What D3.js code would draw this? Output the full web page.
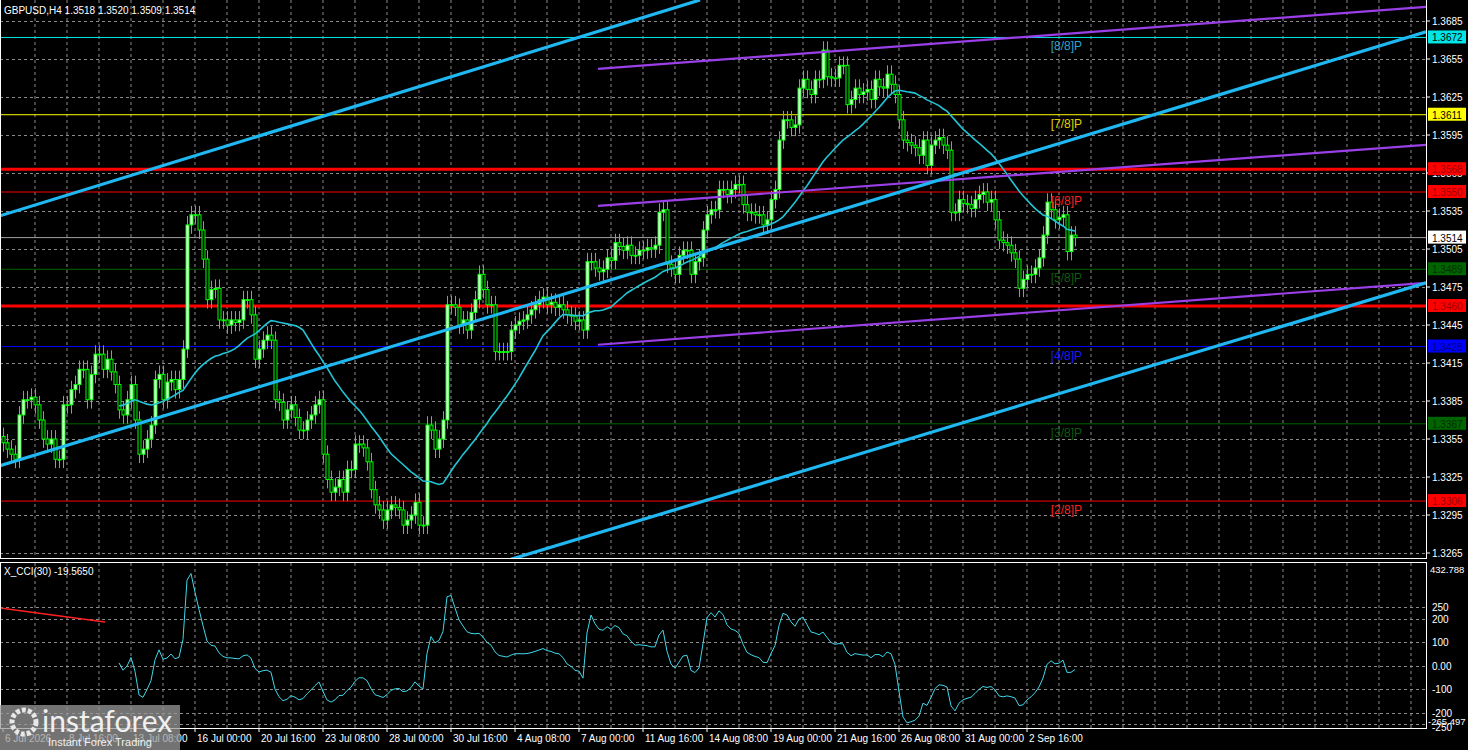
<!DOCTYPE html>
<html><head><meta charset="utf-8">
<script src="https://cdn.jsdelivr.net/npm/d3@7"></script>
<style>
body{margin:0;background:#000;overflow:hidden}
svg{display:block;font-family:"Liberation Sans",Arial,sans-serif}
</style></head><body>
<svg id="c" width="1468" height="750"></svg>
<script>
// closes of the H4 bars
const closes = [
1.3352,1.3347,1.3343,1.3339,1.3374,1.3386,1.3386,1.3388,1.3382,1.3370,1.3355,1.3351,1.3355,1.3339,1.3339,1.3382,1.3382,1.3394,1.3398,1.3410,1.3410,1.3386,1.3406,1.3422,1.3422,1.3410,1.3418,1.3408,1.3398,1.3378,1.3374,1.3386,1.3398,1.3370,1.3343,1.3347,1.3355,1.3366,1.3402,1.3406,1.3386,1.3400,1.3402,1.3394,1.3402,1.3426,1.3524,1.3532,1.3532,1.3520,1.3497,1.3465,1.3473,1.3474,1.3449,1.3449,1.3445,1.3449,1.3447,1.3449,1.3465,1.3465,1.3453,1.3418,1.3426,1.3433,1.3437,1.3433,
1.3386,1.3384,1.3370,1.3378,1.3382,1.3372,1.3362,1.3362,1.3370,1.3374,1.3382,1.3386,1.3343,1.3323,1.3313,1.3317,1.3323,1.3313,1.3331,1.3331,1.3351,1.3351,1.3348,1.3337,1.3315,1.3303,1.3299,1.3291,1.3299,1.3303,1.3301,1.3299,1.3287,1.3291,1.3295,1.3305,1.3287,1.3287,1.3366,1.3362,1.3347,1.3355,1.3370,1.3461,1.3461,1.3459,1.3445,1.3449,1.3441,1.3455,1.3465,1.3485,1.3473,1.3461,1.3461,1.3424,1.3424,1.3424,1.3424,1.3441,1.3445,1.3448,1.3449,1.3453,1.3457,1.3461,1.3465,1.3467,
1.3461,1.3463,1.3459,1.3461,1.3457,1.3453,1.3452,1.3448,1.3449,1.3441,1.3495,1.3495,1.3490,1.3487,1.3489,1.3498,1.3496,1.3510,1.3507,1.3504,1.3508,1.3500,1.3500,1.3504,1.3504,1.3506,1.3505,1.3508,1.3534,1.3536,1.3493,1.3490,1.3485,1.3500,1.3504,1.3504,1.3485,1.3495,1.3498,1.3520,1.3532,1.3536,1.3536,1.3552,1.3552,1.3548,1.3552,1.3556,1.3556,1.3540,1.3534,1.3534,1.3532,1.3532,1.3524,1.3528,1.3544,1.3552,1.3591,1.3607,1.3607,1.3601,1.3603,
1.3632,1.3639,1.3631,1.3627,1.3639,1.3639,1.3662,1.3641,1.3640,1.3640,1.3650,1.3650,1.3619,1.3623,1.3632,1.3627,1.3629,1.3631,1.3623,1.3639,1.3633,1.3632,1.3643,1.3635,1.3627,1.3607,1.3591,1.3589,1.3587,1.3585,1.3579,1.3591,1.3571,1.3587,1.3591,1.3593,1.3587,1.3583,1.3534,1.3534,1.3544,1.3541,1.3540,1.3537,1.3544,1.3548,1.3550,1.3542,1.3544,1.3528,1.3512,1.3510,1.3508,1.3502,1.3497,1.3474,1.3481,1.3485,1.3485,1.3490,1.3498,1.3516,1.3542,1.3536,1.3528,1.3530,1.3532,1.3503,1.3516,1.3514
];
const wick = 0.0007;
const xLabels = ["6 Jul 2026","8 Jul 16:00","13 Jul 08:00","16 Jul 00:00","20 Jul 16:00","23 Jul 08:00","28 Jul 00:00","30 Jul 16:00","4 Aug 08:00","7 Aug 00:00","11 Aug 16:00","14 Aug 08:00","19 Aug 00:00","21 Aug 16:00","26 Aug 08:00","31 Aug 00:00","2 Sep 16:00"];
const priceTicks = [1.3685,1.3655,1.3625,1.3595,1.3565,1.3535,1.3505,1.3475,1.3445,1.3415,1.3385,1.3355,1.3325,1.3295,1.3265];
// horizontal levels: price, colour, width, label text colour
const levels = [
  {p:1.3672,c:"#00e5e5",w:1,t:"#000"},
  {p:1.3611,c:"#ffff00",w:1,t:"#000"},
  {p:1.3568,c:"#ff0000",w:3,t:"#a00000"},
  {p:1.3550,c:"#ff0000",w:1,t:"#a00000"},
  {p:1.3514,c:"#a0a0a0",w:1,t:"#000",bg:"#ffffff"},
  {p:1.3489,c:"#006400",w:1,t:"#003000"},
  {p:1.3460,c:"#ff0000",w:3,t:"#a00000"},
  {p:1.3428,c:"#0000ff",w:1,t:"#000080"},
  {p:1.3367,c:"#006400",w:1,t:"#003000"},
  {p:1.3306,c:"#ff0000",w:1,t:"#a00000"}
];
const murrey = [
  {p:1.3672,s:"[8/8]P",c:"#2aa6c8"},{p:1.3611,s:"[7/8]P",c:"#e0d000"},{p:1.3550,s:"[6/8]P",c:"#ff2020"},
  {p:1.3489,s:"[5/8]P",c:"#0c5c0c"},{p:1.3428,s:"[4/8]P",c:"#1a1aff"},{p:1.3367,s:"[3/8]P",c:"#0c5c0c"},{p:1.3306,s:"[2/8]P",c:"#ff2020"}
];
// channel lines [i1,p1,i2,p2]
const blueLines = [[-0.75,1.35312,174.25,1.37016],[-0.75,1.33339,355.75,1.36764],[126.75,1.32598,355.75,1.34783]];
const purpleLines = [[148.75,1.36472,355.75,1.36961],[148.75,1.35391,355.75,1.35872],[148.75,1.34294,355.75,1.34783]];
const cciTicks = [250,200,100,0,-100,-200,-250];

const svg = d3.select("#c");
const W = 1426, mainBot = 558, cTop = 563, cBot = 728;
const x = d3.scaleLinear().domain([0,1]).range([3,7]);
const y = d3.scaleLinear().domain([1.3685,1.3265]).range([21,553]);
const yc = d3.scaleLinear().domain([432.788,-265.497]).range([564,728]);

const bars = closes.map((c,i) => {
  const o = i ? closes[i-1] : c + 0.0005;
  return {i, o, c, h: Math.max(o,c)+wick, l: Math.min(o,c)-wick};
});

svg.append("clipPath").attr("id","cm").append("rect").attr("width",W).attr("height",mainBot);
svg.append("clipPath").attr("id","cc").append("rect").attr("y",cTop).attr("width",W).attr("height",cBot-cTop);

// grid
const grid = svg.append("g").attr("stroke","#8a8a8a").attr("stroke-dasharray","3,3").attr("stroke-width",1);
d3.range(8,357,8).forEach(i => {
  grid.append("line").attr("x1",x(i)).attr("x2",x(i)).attr("y1",0).attr("y2",mainBot);
  grid.append("line").attr("x1",x(i)).attr("x2",x(i)).attr("y1",cTop).attr("y2",cBot);
});
priceTicks.forEach(p => grid.append("line").attr("x1",0).attr("x2",W).attr("y1",Math.round(y(p))+.5).attr("y2",Math.round(y(p))+.5));
cciTicks.forEach(v => grid.append("line").attr("x1",0).attr("x2",W).attr("y1",Math.round(yc(v))+.5).attr("y2",Math.round(yc(v))+.5));

const m = svg.append("g").attr("clip-path","url(#cm)");
levels.forEach(l => m.append("line").attr("x1",0).attr("x2",W).attr("y1",y(l.p)).attr("y2",y(l.p)).attr("stroke",l.c).attr("stroke-width",l.w));

// candles
const cg = m.append("g");
bars.forEach(b => {
  cg.append("line").attr("x1",x(b.i)+.5).attr("x2",x(b.i)+.5).attr("y1",y(b.h)).attr("y2",y(b.l)).attr("stroke","#00ff00");
  const top = y(Math.max(b.o,b.c)), bot = y(Math.min(b.o,b.c));
  cg.append("rect").attr("x",x(b.i)-1).attr("y",top).attr("width",3).attr("height",Math.max(bot-top,0.8))
    .attr("fill", b.c >= b.o ? "#ffffff" : "#000").attr("stroke","#00ff00").attr("stroke-width",1);
});

// moving average
const per = 30;
const ma = bars.slice(per-1).map(b => ({i:b.i, v:d3.mean(closes.slice(b.i-per+1,b.i+1))}));
m.append("path").datum(ma).attr("fill","none").attr("stroke","#22c4d6").attr("stroke-width",1.6)
  .attr("d", d3.line().x(d=>x(d.i)).y(d=>y(d.v)));

purpleLines.forEach(l => m.append("line").attr("x1",x(l[0])).attr("y1",y(l[1])).attr("x2",x(l[2])).attr("y2",y(l[3])).attr("stroke","#9b3fe8").attr("stroke-width",2.2));
blueLines.forEach(l => m.append("line").attr("x1",x(l[0])).attr("y1",y(l[1])).attr("x2",x(l[2])).attr("y2",y(l[3])).attr("stroke","#1fb8f2").attr("stroke-width",3.2));

murrey.forEach(d => m.append("text").attr("x",1082).attr("y",y(d.p)+13).attr("text-anchor","end").attr("font-size",12).attr("fill",d.c).text(d.s));

// CCI
const n = 30;
const tp = bars.map(b => (b.h+b.l+b.c)/3);
const cci = [];
for (let i = n-1; i < bars.length; i++) {
  const w = tp.slice(i-n+1,i+1), s = d3.mean(w), md = d3.mean(w, v => Math.abs(v-s));
  cci.push({i, v: md ? (tp[i]-s)/(0.015*md) : 0});
}
const cc = svg.append("g").attr("clip-path","url(#cc)");
cc.append("path").datum(cci).attr("fill","none").attr("stroke","#3fd8ea").attr("stroke-width",1)
  .attr("d", d3.line().x(d=>x(d.i)).y(d=>yc(d.v)));
cc.append("line").attr("x1",0).attr("y1",608).attr("x2",105).attr("y2",622).attr("stroke","#ff2020").attr("stroke-width",1.5);

// frames
svg.append("rect").attr("x",0.5).attr("y",-2).attr("width",W).attr("height",mainBot+2.5).attr("fill","none").attr("stroke","#fff");
svg.append("rect").attr("x",0.5).attr("y",cTop-.5).attr("width",W).attr("height",cBot-cTop+1).attr("fill","none").attr("stroke","#fff");

// price axis
const ax = svg.append("g").attr("font-size",10).attr("fill","#fff");
priceTicks.forEach(p => {
  ax.append("line").attr("x1",W).attr("x2",W+4).attr("y1",y(p)).attr("y2",y(p)).attr("stroke","#fff");
  ax.append("text").attr("x",1432).attr("y",y(p)+4).text(p.toFixed(4));
});
levels.forEach(l => {
  ax.append("rect").attr("x",1428).attr("y",y(l.p)-7).attr("width",38).attr("height",13).attr("fill",l.bg||l.c);
  ax.append("text").attr("x",1432).attr("y",y(l.p)+4).attr("fill",l.t).text(l.p.toFixed(4));
});
cciTicks.filter(v=>v!==-250).forEach(v => ax.append("text").attr("x",1432).attr("y",yc(v)+4).text(v===0?"0.00":v));
ax.append("text").attr("x",1432).attr("y",yc(-250)+7).text("-250");
ax.append("text").attr("x",1430).attr("y",573).attr("font-size",9.5).text("432.788");
ax.append("text").attr("x",1428).attr("y",725).attr("font-size",9.5).text("-265.497");

// time axis
xLabels.forEach((s,k) => {
  const xi = x(k*16);
  svg.append("line").attr("x1",xi).attr("x2",xi).attr("y1",cBot).attr("y2",cBot+4).attr("stroke","#fff");
  svg.append("text").attr("x",xi+2).attr("y",742).attr("font-size",10).attr("fill","#fff").text(s);
});

svg.append("text").attr("x",4).attr("y",14).attr("font-size",10).attr("fill","#fff").text("GBPUSD,H4  1.3518 1.3520 1.3509 1.3514");
svg.append("text").attr("x",4).attr("y",575).attr("font-size",10).attr("fill","#fff").text("X_CCI(30) -19.5650");

// watermark
const wm = svg.append("g");
wm.append("rect").attr("x",0).attr("y",705).attr("width",180).attr("height",45).attr("fill","#9a9a9a").attr("opacity",0.75);
wm.append("circle").attr("cx",24).attr("cy",722).attr("r",12).attr("fill","none").attr("stroke","#e8e8e8").attr("stroke-width",5).attr("stroke-dasharray","4,2");
wm.append("text").attr("x",42).attr("y",732).attr("font-size",30).attr("fill","#f0f0f0").attr("font-family","Lato,sans-serif").text("instaforex");
wm.append("text").attr("x",48).attr("y",746).attr("font-size",11).attr("fill","#f0f0f0").text("Instant Forex Trading");
</script></body></html>
